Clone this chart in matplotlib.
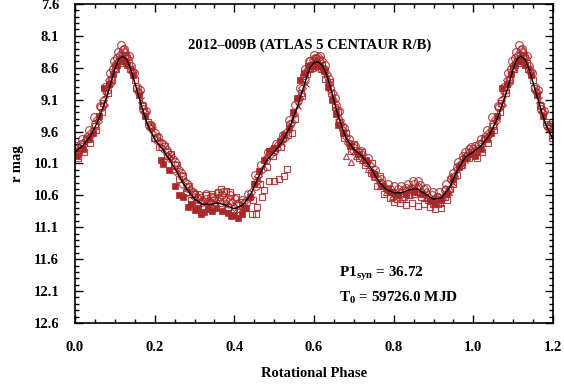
import matplotlib
matplotlib.use("Agg")
import matplotlib.pyplot as plt
from matplotlib.ticker import MultipleLocator

plt.rcParams['font.family'] = ['Liberation Serif', 'DejaVu Serif']
plt.rcParams['font.weight'] = 'bold'
plt.rcParams['mathtext.fontset'] = 'custom'
plt.rcParams['mathtext.rm'] = 'Liberation Serif:bold'
plt.rcParams['mathtext.it'] = 'Liberation Serif:bold'
plt.rcParams['mathtext.bf'] = 'Liberation Serif:bold'

# fitted curve, phase 0..1 (repeated to 1.2)
fit_phase = [0.00, 0.02, 0.04, 0.06, 0.08, 0.10, 0.11, 0.12, 0.13, 0.14, 0.16, 0.18,
             0.20, 0.22, 0.24, 0.26, 0.28, 0.30, 0.32, 0.34, 0.36, 0.38, 0.40, 0.42,
             0.44, 0.46, 0.48, 0.50, 0.52, 0.54, 0.56, 0.58, 0.59, 0.60, 0.61, 0.62,
             0.63, 0.64, 0.66, 0.68, 0.70, 0.72, 0.74, 0.76, 0.78, 0.80, 0.82, 0.84,
             0.86, 0.88, 0.90, 0.92, 0.94, 0.96, 0.98, 1.00]
fit_mag = [9.92, 9.82, 9.66, 9.40, 9.05, 8.62, 8.46, 8.42, 8.47, 8.62, 9.05, 9.46,
           9.72, 9.88, 10.07, 10.28, 10.50, 10.66, 10.74, 10.74, 10.72, 10.76, 10.81, 10.76,
           10.60, 10.32, 10.06, 9.92, 9.76, 9.52, 9.18, 8.78, 8.60, 8.52, 8.51, 8.56,
           8.68, 8.88, 9.34, 9.70, 9.88, 9.98, 10.14, 10.36, 10.50, 10.56, 10.56, 10.51,
           10.50, 10.58, 10.66, 10.64, 10.48, 10.21, 10.00, 9.92]

# observations by session / symbol
filled_phase = [0.005, 0.02, 0.035, 0.045, 0.06, 0.072, 0.085, 0.095, 0.105, 0.118, 0.13, 0.145,
                0.16, 0.175, 0.215, 0.222, 0.235, 0.25, 0.26, 0.27, 0.284, 0.292, 0.30, 0.31,
                0.317, 0.325, 0.335, 0.345, 0.355, 0.37, 0.385, 0.392, 0.40, 0.41, 0.418, 0.43,
                0.44, 0.45, 0.462, 0.475, 0.487, 0.50, 0.515, 0.525, 0.536, 0.548, 0.557, 0.566,
                0.575, 0.585, 0.592, 0.60, 0.608, 0.615, 0.625, 0.635, 0.645, 0.654, 0.66, 0.672,
                0.69, 0.71, 0.73, 0.75, 0.77, 0.79, 0.81, 0.83, 0.85, 0.87, 0.89, 0.905,
                0.92, 0.935, 0.95, 0.965, 0.98, 0.995]
filled_mag = [9.98, 9.88, 9.72, 9.62, 9.35, 8.91, 8.85, 8.70, 8.55, 8.48, 8.55, 8.72,
              9.02, 9.36, 10.05, 10.11, 10.21, 10.45, 10.60, 10.62, 10.79, 10.74, 10.83, 10.80,
              10.90, 10.86, 10.82, 10.85, 10.80, 10.84, 10.87, 10.93, 10.91, 10.96, 10.90, 10.80,
              10.62, 10.42, 10.22, 10.05, 9.90, 9.86, 9.75, 9.65, 9.54, 9.30, 9.07, 8.80,
              8.68, 8.58, 8.55, 8.56, 8.52, 8.58, 8.65, 8.90, 9.10, 9.33, 9.49, 9.62,
              9.82, 9.95, 10.05, 10.26, 10.45, 10.55, 10.60, 10.58, 10.55, 10.58, 10.68, 10.72,
              10.68, 10.58, 10.35, 10.15, 10.02, 9.95]

osq_phase = [0.01, 0.03, 0.05, 0.07, 0.09, 0.10, 0.11, 0.125, 0.135, 0.15, 0.17, 0.19,
             0.205, 0.225, 0.24, 0.255, 0.27, 0.285, 0.30, 0.315, 0.33, 0.345, 0.36, 0.367,
             0.379, 0.39, 0.405, 0.42, 0.444, 0.454, 0.457, 0.47, 0.474, 0.487, 0.50, 0.511,
             0.524, 0.531, 0.545, 0.57, 0.59, 0.605, 0.62, 0.64, 0.66, 0.68, 0.70, 0.72,
             0.745, 0.765, 0.785, 0.80, 0.815, 0.83, 0.845, 0.86, 0.875, 0.89, 0.905, 0.92,
             0.935, 0.95, 0.97, 0.985]
osq_mag = [9.90, 9.70, 9.52, 9.15, 8.78, 8.62, 8.50, 8.40, 8.52, 8.80, 9.20, 9.52,
           9.68, 9.82, 9.95, 10.12, 10.30, 10.45, 10.58, 10.62, 10.60, 10.58, 10.55, 10.50,
           10.53, 10.55, 10.62, 10.70, 10.90, 10.90, 10.79, 10.63, 10.51, 10.37, 10.37, 10.35,
           10.29, 10.19, 9.62, 9.05, 8.62, 8.45, 8.55, 8.82, 9.30, 9.62, 9.80, 9.92,
           10.10, 10.30, 10.50, 10.70, 10.72, 10.75, 10.72, 10.76, 10.74, 10.78, 10.82, 10.80,
           10.68, 10.42, 10.12, 9.98]

sq2_phase = [0.008, 0.022, 0.038, 0.052, 0.068, 0.082, 0.092, 0.102, 0.113, 0.122, 0.138, 0.152,
             0.168, 0.182, 0.198, 0.212, 0.232, 0.248, 0.262, 0.278, 0.292, 0.308, 0.322, 0.338,
             0.352, 0.365, 0.385, 0.398, 0.412, 0.428, 0.448, 0.465, 0.482, 0.498, 0.518, 0.534,
             0.552, 0.568, 0.582, 0.596, 0.606, 0.618, 0.628, 0.642, 0.652, 0.662, 0.676, 0.692,
             0.712, 0.728, 0.742, 0.758, 0.775, 0.792, 0.808, 0.822, 0.838, 0.852, 0.868, 0.885,
             0.898, 0.912, 0.928, 0.942, 0.958, 0.972, 0.988]
sq2_mag = [10.02, 9.92, 9.78, 9.58, 9.30, 9.00, 8.80, 8.62, 8.52, 8.50, 8.62, 8.92,
           9.18, 9.45, 9.70, 9.85, 9.98, 10.18, 10.35, 10.55, 10.68, 10.75, 10.78, 10.70,
           10.75, 10.72, 10.78, 10.85, 10.82, 10.80, 10.68, 10.42, 10.15, 9.98, 9.85, 9.65,
           9.40, 9.00, 8.70, 8.60, 8.58, 8.62, 8.78, 9.00, 9.22, 9.45, 9.70, 9.90,
           10.02, 10.12, 10.25, 10.45, 10.58, 10.64, 10.66, 10.65, 10.60, 10.58, 10.62, 10.68,
           10.74, 10.74, 10.62, 10.50, 10.28, 10.12, 10.02]

circ_phase = [0.0, 0.015, 0.03, 0.05, 0.065, 0.08, 0.095, 0.105, 0.115, 0.12, 0.128, 0.14,
              0.155, 0.17, 0.185, 0.20, 0.215, 0.23, 0.25, 0.265, 0.28, 0.295, 0.31, 0.33,
              0.35, 0.37, 0.39, 0.41, 0.43, 0.455, 0.48, 0.50, 0.52, 0.54, 0.56, 0.575,
              0.59, 0.60, 0.612, 0.625, 0.64, 0.655, 0.67, 0.69, 0.71, 0.73, 0.75, 0.77,
              0.79, 0.81, 0.83, 0.85, 0.86, 0.875, 0.895, 0.91, 0.93, 0.945, 0.96, 0.975, 0.99]
circ_mag = [9.88, 9.80, 9.68, 9.48, 9.22, 8.95, 8.62, 8.45, 8.24, 8.32, 8.42, 8.58,
            8.90, 9.25, 9.50, 9.62, 9.78, 9.92, 10.08, 10.25, 10.42, 10.55, 10.65, 10.65,
            10.62, 10.60, 10.68, 10.75, 10.72, 10.45, 10.05, 9.90, 9.72, 9.48, 9.10, 8.72,
            8.50, 8.40, 8.48, 8.62, 8.92, 9.18, 9.52, 9.80, 9.92, 10.08, 10.28, 10.42,
            10.50, 10.50, 10.48, 10.42, 10.38, 10.50, 10.60, 10.62, 10.52, 10.35, 10.15, 9.98, 9.88]

circ2_phase = [0.003, 0.018, 0.035, 0.048, 0.062, 0.076, 0.088, 0.098, 0.108, 0.122, 0.135, 0.148,
               0.162, 0.178, 0.192, 0.208, 0.222, 0.238, 0.252, 0.268, 0.283, 0.298, 0.312, 0.328,
               0.342, 0.358, 0.372, 0.388, 0.402, 0.418, 0.435, 0.452, 0.468, 0.485, 0.505, 0.522,
               0.538, 0.552, 0.565, 0.578, 0.588, 0.602, 0.615, 0.628, 0.638, 0.652, 0.662, 0.675,
               0.688, 0.702, 0.718, 0.735, 0.752, 0.768, 0.785, 0.802, 0.818, 0.835, 0.848, 0.865,
               0.882, 0.898, 0.915, 0.932, 0.948, 0.962, 0.978, 0.995]
circ2_mag = [9.82, 9.72, 9.58, 9.38, 9.20, 8.90, 8.68, 8.50, 8.36, 8.30, 8.42, 8.68,
             8.95, 9.28, 9.50, 9.68, 9.80, 9.96, 10.12, 10.30, 10.48, 10.58, 10.60, 10.58,
             10.62, 10.56, 10.55, 10.60, 10.65, 10.68, 10.58, 10.28, 10.12, 9.92, 9.80, 9.66,
             9.42, 9.18, 8.92, 8.62, 8.50, 8.45, 8.42, 8.55, 8.78, 9.08, 9.28, 9.55,
             9.72, 9.82, 9.90, 10.02, 10.20, 10.35, 10.42, 10.45, 10.45, 10.42, 10.38, 10.44,
             10.48, 10.55, 10.55, 10.42, 10.25, 10.08, 9.92, 9.85]

diam_phase = [0.005, 0.02, 0.04, 0.055, 0.07, 0.085, 0.10, 0.11, 0.118, 0.125, 0.132, 0.145,
              0.16, 0.175, 0.19, 0.21, 0.23, 0.245, 0.26, 0.275, 0.29, 0.305, 0.32, 0.34,
              0.36, 0.38, 0.40, 0.42, 0.44, 0.46, 0.48, 0.495, 0.51, 0.53, 0.55, 0.57,
              0.585, 0.598, 0.61, 0.62, 0.632, 0.648, 0.665, 0.68, 0.70, 0.72, 0.74, 0.76,
              0.78, 0.80, 0.82, 0.84, 0.86, 0.88, 0.90, 0.915, 0.93, 0.945, 0.96, 0.975, 0.99]
diam_mag = [9.95, 9.78, 9.60, 9.40, 9.10, 8.80, 8.55, 8.40, 8.38, 8.35, 8.45, 8.65,
            8.98, 9.30, 9.55, 9.75, 9.88, 10.02, 10.18, 10.38, 10.52, 10.62, 10.70, 10.70,
            10.68, 10.72, 10.78, 10.78, 10.62, 10.30, 10.02, 9.88, 9.80, 9.60, 9.32, 8.92,
            8.62, 8.48, 8.42, 8.48, 8.70, 9.00, 9.42, 9.68, 9.85, 9.95, 10.12, 10.35,
            10.48, 10.54, 10.52, 10.48, 10.46, 10.55, 10.65, 10.62, 10.50, 10.32, 10.18, 10.02, 9.92]

diam2_phase = [0.012, 0.028, 0.042, 0.058, 0.072, 0.088, 0.104, 0.116, 0.128, 0.142, 0.158, 0.172,
               0.188, 0.202, 0.218, 0.235, 0.252, 0.268, 0.282, 0.298, 0.318, 0.332, 0.348, 0.362,
               0.378, 0.395, 0.408, 0.425, 0.442, 0.458, 0.472, 0.492, 0.508, 0.528, 0.545, 0.562,
               0.578, 0.592, 0.604, 0.616, 0.626, 0.638, 0.655, 0.672, 0.685, 0.698, 0.715, 0.732,
               0.748, 0.765, 0.782, 0.798, 0.815, 0.832, 0.845, 0.858, 0.872, 0.888, 0.905, 0.922,
               0.938, 0.952, 0.968, 0.982, 0.998]
diam2_mag = [9.86, 9.74, 9.64, 9.44, 9.18, 8.86, 8.52, 8.44, 8.44, 8.66, 8.98, 9.30,
             9.55, 9.72, 9.86, 10.02, 10.22, 10.42, 10.55, 10.62, 10.68, 10.72, 10.66, 10.62,
             10.66, 10.70, 10.72, 10.70, 10.55, 10.38, 10.18, 9.95, 9.86, 9.70, 9.45, 9.08,
             8.78, 8.55, 8.50, 8.50, 8.62, 8.85, 9.25, 9.58, 9.78, 9.90, 9.98, 10.08,
             10.25, 10.40, 10.52, 10.56, 10.55, 10.52, 10.48, 10.48, 10.55, 10.62, 10.68, 10.66,
             10.52, 10.30, 10.10, 9.98, 9.90]

tri_phase = [0.62, 0.635, 0.65, 0.668, 0.681, 0.694, 0.705, 0.72, 0.735, 0.75, 0.765, 0.78,
             0.795, 0.81, 0.825, 0.84, 0.86, 0.88, 0.90, 0.92, 0.94, 0.955, 0.97, 0.985]
tri_mag = [8.62, 8.78, 9.08, 9.45, 9.98, 10.08, 9.98, 10.05, 10.18, 10.32, 10.45, 10.55,
           10.62, 10.58, 10.62, 10.60, 10.55, 10.62, 10.72, 10.72, 10.55, 10.30, 10.10, 10.00]

x_phase = [0.025, 0.045, 0.075, 0.14, 0.165, 0.195, 0.24, 0.28, 0.33, 0.38, 0.42, 0.46,
           0.52, 0.56, 0.58, 0.60, 0.63, 0.66, 0.70, 0.75, 0.80, 0.85, 0.90, 0.95, 0.98]
x_mag = [9.78, 9.58, 9.02, 8.60, 9.10, 9.58, 9.98, 10.48, 10.72, 10.75, 10.80, 10.35,
         9.78, 9.20, 8.85, 8.60, 8.72, 9.38, 9.90, 10.22, 10.58, 10.52, 10.68, 10.40, 10.05]

y_ticks = [7.6, 8.1, 8.6, 9.1, 9.6, 10.1, 10.6, 11.1, 11.6, 12.1, 12.6]
x_ticks = [0.0, 0.2, 0.4, 0.6, 0.8, 1.0, 1.2]


def wrap(ph, mg):
    # phase-fold: repeat the first 0.2 of the cycle after 1.0
    p = list(ph) + [v + 1.0 for v in ph if v <= 0.2]
    m = list(mg) + [mg[i] for i, v in enumerate(ph) if v <= 0.2]
    return p, m


red = '#a8282a'
fig = plt.figure(figsize=(5.64, 3.91), dpi=100)
ax = fig.add_axes([0.133, 0.174, 0.8475, 0.816])

ms = 5.0
ew = 0.85
for ph, mg, mk, size in [(osq_phase, osq_mag, 's', ms), (sq2_phase, sq2_mag, 's', ms),
                         (circ_phase, circ_mag, 'o', ms + 0.6), (circ2_phase, circ2_mag, 'o', ms + 0.6),
                         (diam_phase, diam_mag, 'D', ms - 0.6), (diam2_phase, diam2_mag, 'D', ms - 0.6),
                         (tri_phase, tri_mag, '^', ms)]:
    p, m = wrap(ph, mg)
    ax.plot(p, m, mk, ms=size, mfc='none', mec=red, mew=ew, alpha=0.85)
p, m = wrap(x_phase, x_mag)
ax.plot(p, m, 'x', ms=ms, mec=red, mew=ew)
p, m = wrap(filled_phase, filled_mag)
ax.plot(p, m, 's', ms=ms, mfc=red, mec=red, mew=0.5)

p, m = wrap(fit_phase, fit_mag)
order = sorted(range(len(p)), key=lambda i: p[i])
ax.plot([p[i] for i in order], [m[i] for i in order], '-', color='black', lw=1.0)

ax.set_xlim(0.0, 1.2)
ax.set_ylim(12.6, 7.6)
ax.set_xticks(x_ticks)
ax.set_xticklabels(['%.1f' % v for v in x_ticks])
ax.set_yticks(y_ticks)
ax.set_yticklabels(['%.1f' % v for v in y_ticks])
ax.xaxis.set_minor_locator(MultipleLocator(0.05))
ax.yaxis.set_minor_locator(MultipleLocator(0.1))
ax.tick_params(which='both', direction='in', top=True, right=True, labelsize=10.5, width=1)
ax.tick_params(which='major', length=6)
ax.tick_params(which='minor', length=3)
ax.tick_params(axis='x', which='major', pad=13)
ax.tick_params(axis='y', which='major', pad=11.5)
for s in ax.spines.values():
    s.set_linewidth(1.2)

ax.set_xlabel('Rotational Phase', fontsize=10.5, fontweight='bold', labelpad=9.5)
ax.set_ylabel('r mag', fontsize=10.5, fontweight='bold', labelpad=7)

ax.text(0.4916, 0.871, '2012\u2013009B (ATLAS 5 CENTAUR R/B)', transform=ax.transAxes,
        ha='center', va='center', fontsize=10.5, fontweight='bold')
ax.text(0.552, 0.144, r'P1$_{\mathrm{syn}}$ = 36.72', transform=ax.transAxes,
        ha='left', va='baseline', fontsize=11, fontweight='bold')
ax.text(0.552, 0.066, r'T$_{\mathrm{0}}$ = 59726.0 MJD', transform=ax.transAxes,
        ha='left', va='baseline', fontsize=11, fontweight='bold')

fig.savefig('out.png', dpi=100)
